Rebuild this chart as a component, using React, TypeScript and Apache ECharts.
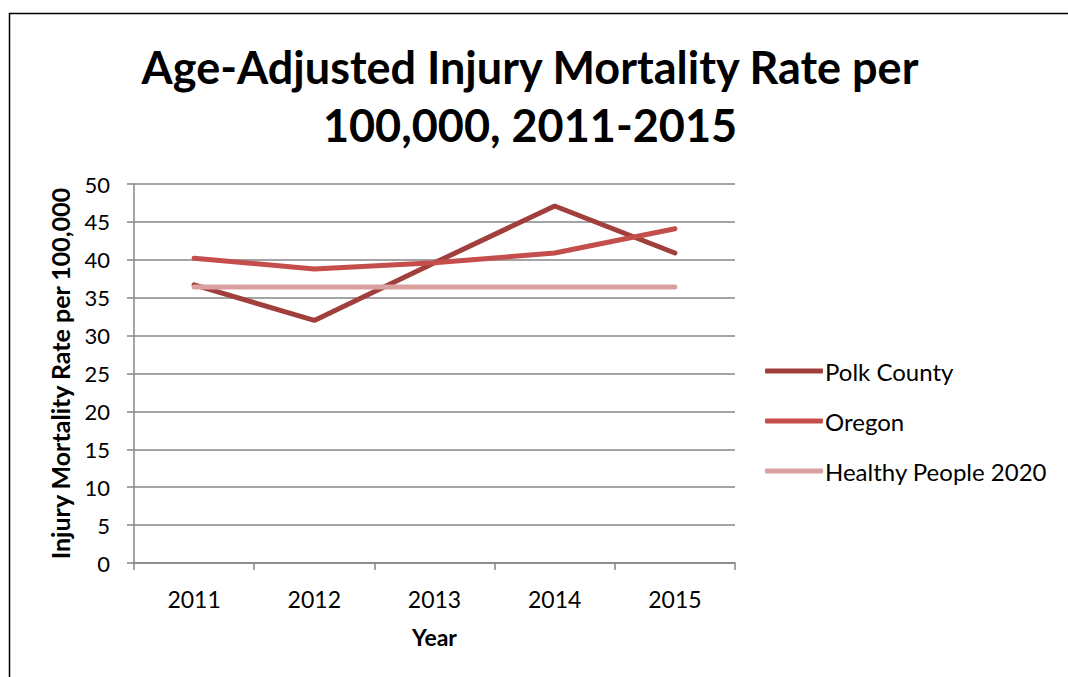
import React, { useEffect, useRef } from "react";
import * as echarts from "echarts";

const years = ["2011", "2012", "2013", "2014", "2015"];
const polkCounty = [36.7, 32.0, 39.6, 47.1, 40.9];
const oregon = [40.2, 38.8, 39.6, 40.9, 44.1];
const healthyPeople2020 = [36.4, 36.4, 36.4, 36.4, 36.4];

const FONT = "Lato, 'Open Sans', sans-serif";

export default function App() {
  const ref = useRef<HTMLDivElement>(null);
  useEffect(() => {
    if (!ref.current) return;
    const chart = echarts.init(ref.current, null, { renderer: "svg" });
    const mk = (name: string, data: number[], color: string) => ({
      name,
      type: "line",
      data,
      symbol: "none",
      lineStyle: { color, width: 5, cap: "round" },
      itemStyle: { color },
    });
    chart.setOption({
      animation: false,
      backgroundColor: "#ffffff",
      title: {
        text: "Age-Adjusted Injury Mortality Rate per\n100,000, 2011-2015",
        left: 525,
        top: 33,
        textAlign: "center",
        textStyle: {
          fontFamily: FONT,
          fontWeight: "bold",
          fontSize: 45,
          lineHeight: 58,
          color: "#000",
        },
      },
      graphic: [
        {
          type: "rect",
          shape: { x: 9.5, y: 13.5, width: 1080, height: 700 },
          style: { fill: "none", stroke: "#000", lineWidth: 1.5 },
          silent: true,
        },
      ],
      legend: {
        orient: "vertical",
        left: 760,
        top: 354,
        icon: "roundRect",
        itemWidth: 58,
        itemHeight: 5,
        itemGap: 26,
        textStyle: { fontFamily: FONT, fontSize: 24, color: "#000", padding: [0, 0, 0, -3] },
        data: ["Polk County", "Oregon", "Healthy People 2020"],
      },
      grid: { left: 134, top: 184, width: 601, height: 379 },
      xAxis: {
        type: "category",
        data: years,
        boundaryGap: true,
        name: "Year",
        nameLocation: "middle",
        nameGap: 62,
        nameTextStyle: { fontFamily: FONT, fontWeight: "bold", fontSize: 23, color: "#000" },
        axisLine: { lineStyle: { color: "#868686", width: 1.5 } },
        axisTick: { show: true, length: 7, lineStyle: { color: "#868686", width: 1.5 } },
        axisLabel: { fontFamily: FONT, fontSize: 23, color: "#000", margin: 24 },
      },
      yAxis: {
        type: "value",
        min: 0,
        max: 50,
        interval: 5,
        name: "Injury Mortality Rate per 100,000",
        nameLocation: "middle",
        nameGap: 62,
        nameTextStyle: { fontFamily: FONT, fontWeight: "bold", fontSize: 25, color: "#000" },
        axisLine: { show: true, lineStyle: { color: "#868686", width: 1.5 } },
        axisTick: { show: true, length: 7, lineStyle: { color: "#868686", width: 1.5 } },
        splitLine: { lineStyle: { color: "#868686", width: 1.5 } },
        axisLabel: { fontFamily: FONT, fontSize: 22, color: "#000", margin: 24 },
      },
      series: [
        mk("Polk County", polkCounty, "#A03F3C"),
        mk("Oregon", oregon, "#C44E4B"),
        mk("Healthy People 2020", healthyPeople2020, "#D9A09F"),
      ],
    });
    return () => chart.dispose();
  }, []);
  return (
    <div
      ref={ref}
      style={{ position: "absolute", left: 0, top: 0, width: 1068, height: 677 }}
    />
  );
}
